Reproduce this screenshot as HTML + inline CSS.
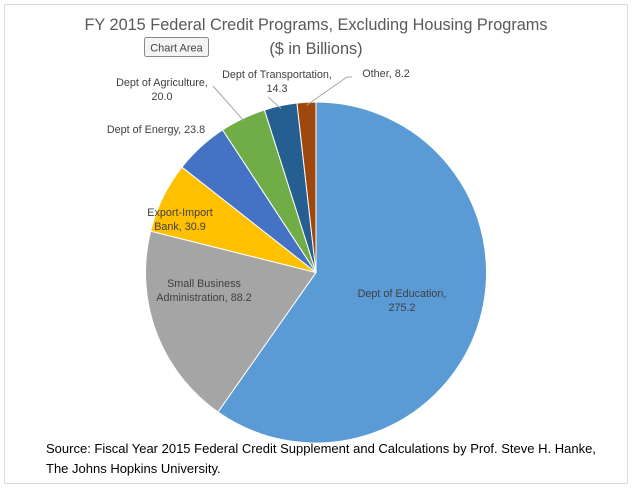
<!DOCTYPE html>
<html><head><meta charset="utf-8"><style>
body{margin:0;width:632px;height:488px;background:#fff;overflow:hidden;font-family:"Liberation Sans",sans-serif}
svg{display:block}
</style></head><body>
<svg id="chart" width="632" height="488">
<rect x="4.5" y="4.5" width="623" height="479" fill="#fff" stroke="#d9d9d9"/>
<text x="316" y="30" text-anchor="middle" font-size="16.3" fill="#595959">FY 2015 Federal Credit Programs, Excluding Housing Programs</text>
<text x="316" y="54" text-anchor="middle" font-size="16.3" fill="#595959">($ in Billions)</text>
<g>
<rect x="144.5" y="37.5" width="64" height="19" rx="2" fill="#f4f4f4" stroke="#8a8a8a"/>
<text x="176.5" y="51.5" text-anchor="middle" font-size="11" fill="#444">Chart Area</text>
</g>
<g id="slices"></g>
<g id="labels" font-size="10.8" fill="#404040"></g>
<text x="46" y="453" font-size="13" fill="#000">Source: Fiscal Year 2015 Federal Credit Supplement and Calculations by Prof. Steve H. Hanke,</text>
<text x="46" y="473" font-size="13" fill="#000">The Johns Hopkins University.</text>
</svg>
<script>
const categories = ["Dept of Education","Small Business Administration","Export-Import Bank","Dept of Energy","Dept of Agriculture","Dept of Transportation","Other"];
const values = [275.2, 88.2, 30.9, 23.8, 20.0, 14.3, 8.2];
const valueLabels = ["275.2","88.2","30.9","23.8","20.0","14.3","8.2"];
const colors = ["#5B9BD5","#A5A5A5","#FFC000","#4472C4","#70AD47","#255E91","#9E480E"];
const cx=316, cy=272.5, r=170.5;
const NS="http://www.w3.org/2000/svg";
const total=values.reduce((a,b)=>a+b,0);
function pt(a,rr){return [cx+rr*Math.sin(a), cy-rr*Math.cos(a)];}
const sg=document.getElementById('slices');
let acc=0;
const mids=[];
values.forEach((v,i)=>{
  const a0=acc/total*2*Math.PI; acc+=v; const a1=acc/total*2*Math.PI;
  mids.push((a0+a1)/2);
  const p0=pt(a0,r), p1=pt(a1,r);
  const large=(a1-a0)>Math.PI?1:0;
  const p=document.createElementNS(NS,'path');
  p.setAttribute('d',`M${cx},${cy}L${p0[0]},${p0[1]}A${r},${r} 0 ${large} 1 ${p1[0]},${p1[1]}Z`);
  p.setAttribute('fill',colors[i]);
  p.setAttribute('stroke','#fff');
  p.setAttribute('stroke-width','1');
  
  
  sg.appendChild(p);
});
const lg=document.getElementById('labels');
const layout=[
  [[categories[0]+",",valueLabels[0]],402,297,'middle',null],
  [["Small Business","Administration, "+valueLabels[1]],204,287,'middle',null],
  [["Export-Import","Bank, "+valueLabels[2]],180,216,'middle',null],
  [["Dept of Energy, "+valueLabels[3]],156,133,'middle',null],
  [["Dept of Agriculture,",valueLabels[4]],162,86,'middle',[213,86]],
  [["Dept of Transportation,",valueLabels[5]],277,78,'middle',[268,97]],
  [["Other, "+valueLabels[6]],386,77,'middle',[352,77]]
];
layout.forEach((L,i)=>{
  const t=document.createElementNS(NS,'text');
  t.setAttribute('x',L[1]);t.setAttribute('y',L[2]);t.setAttribute('text-anchor',L[3]);
  
  
  L[0].forEach((s,j)=>{const ts=document.createElementNS(NS,'tspan');ts.setAttribute('x',L[1]);ts.setAttribute('dy',j?14:0);ts.textContent=s;t.appendChild(ts);});
  lg.appendChild(t);
  if(L[4]){
    const e=pt(mids[i],r-3);
    const ln=document.createElementNS(NS,'polyline');
    ln.setAttribute('points',`${L[4][0]},${L[4][1]} ${L[4][0]+(i==6?-5:0)},${L[4][1]} ${e[0]},${e[1]}`);
    ln.setAttribute('fill','none');ln.setAttribute('stroke','#a6a6a6');ln.setAttribute('stroke-width','1');
    
    
    lg.appendChild(ln);
  }
});
</script>
</body></html>
